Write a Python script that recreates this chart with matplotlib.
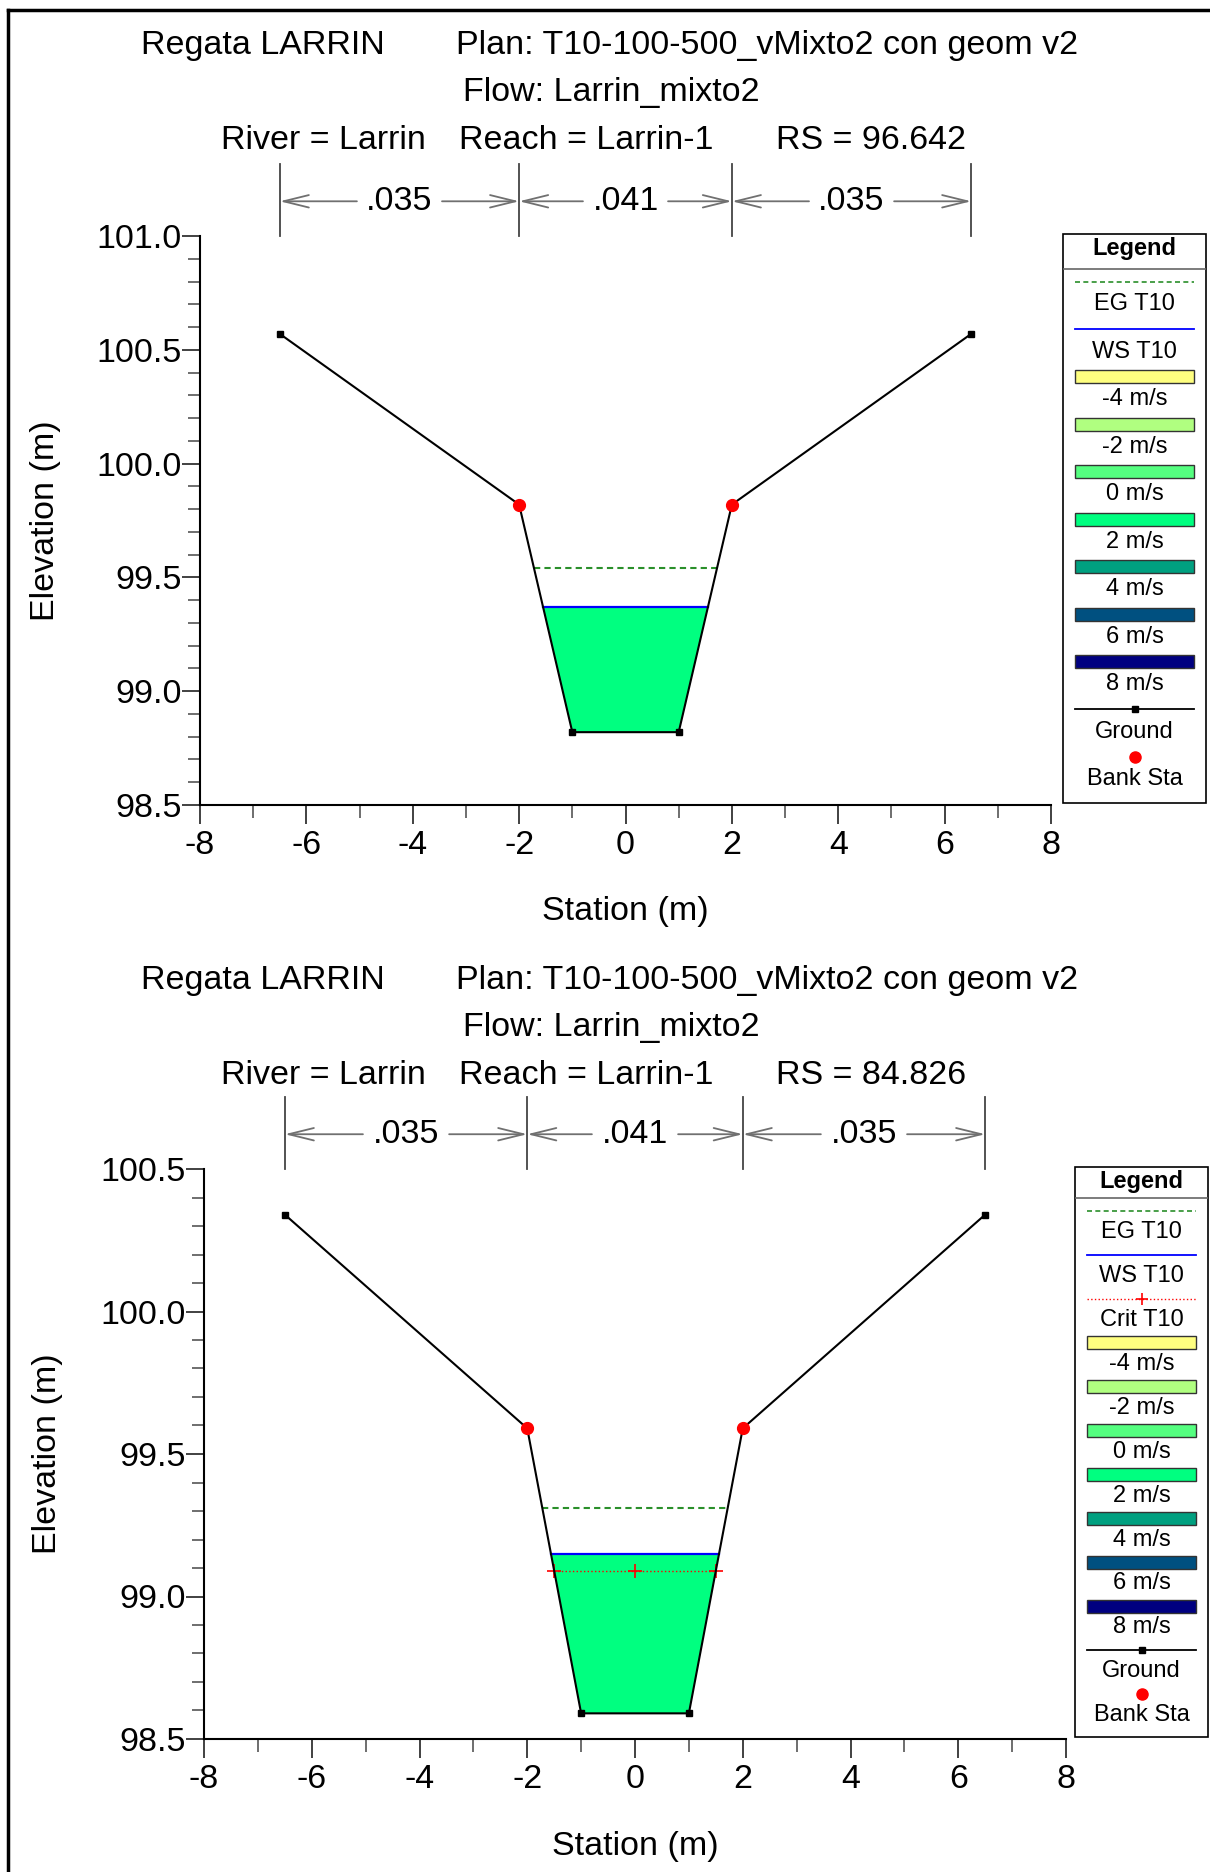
import numpy as np
import matplotlib
matplotlib.use("Agg")
import matplotlib.pyplot as plt
from matplotlib.patches import Rectangle, Polygon
from matplotlib.lines import Line2D
from matplotlib.transforms import blended_transform_factory
from matplotlib.ticker import MultipleLocator, FormatStrFormatter

plt.rcParams['font.family'] = ['Liberation Sans', 'DejaVu Sans']
plt.rcParams['axes.unicode_minus'] = False

W, H = 1210, 1872

# Cross section at RS 96.642
sta_a = [-6.5, -2.0, -1.0, 1.0, 2.0, 6.5]
elev_a = [100.57, 99.82, 98.82, 98.82, 99.82, 100.57]
bank_a = [-2.0, 2.0]
ws_a = 99.37
eg_a = 99.54

# Cross section at RS 84.826
sta_b = [-6.5, -2.0, -1.0, 1.0, 2.0, 6.5]
elev_b = [100.34, 99.59, 98.59, 98.59, 99.59, 100.34]
bank_b = [-2.0, 2.0]
ws_b = 99.15
eg_b = 99.31
crit_b = 99.09

# Manning's n between stations
n_edges = [-6.5, -2.0, 2.0, 6.5]
n_vals = [".035", ".041", ".035"]

vel_labels = ["-4 m/s", "-2 m/s", "0 m/s", "2 m/s", "4 m/s", "6 m/s", "8 m/s"]
vel_colors = ["#FFFF80", "#B0FF80", "#55FF80", "#00FF80", "#00A080", "#005080", "#000080"]
water_color = vel_colors[3]

fig = plt.figure(figsize=(W / 100, H / 100), dpi=100)

# page frame (top and left edge)
fig.add_artist(Line2D([8 / W, 1.0], [1 - 10 / H] * 2, transform=fig.transFigure, color='black', lw=2.5))
fig.add_artist(Line2D([8 / W] * 2, [0.0, 1 - 10 / H], transform=fig.transFigure, color='black', lw=2.5))

FS = 24.5


def px_axes(x0, y0, x1, y1):
    return fig.add_axes([x0 / W, 1 - y1 / H, (x1 - x0) / W, (y1 - y0) / H])


def water_edges(sta, elev, level):
    sta = np.array(sta)
    elev = np.array(elev)
    lo = int(np.argmin(elev))
    left = np.interp(level, elev[:lo + 1][::-1], sta[:lo + 1][::-1])
    hi = len(elev) - 1 - int(np.argmin(elev[::-1]))
    right = np.interp(level, elev[hi:], sta[hi:])
    return left, right


def titles(top, rs):
    fig.text(141 / W, 1 - top / H, "Regata LARRIN", fontsize=FS, va='baseline')
    fig.text(456 / W, 1 - top / H, "Plan: T10-100-500_vMixto2 con geom v2", fontsize=FS, va='baseline')
    fig.text(463 / W, 1 - (top + 47.5) / H, "Flow: Larrin_mixto2", fontsize=FS, va='baseline')
    fig.text(221 / W, 1 - (top + 95) / H, "River = Larrin", fontsize=FS, va='baseline')
    fig.text(459 / W, 1 - (top + 95) / H, "Reach = Larrin-1", fontsize=FS, va='baseline')
    fig.text(776 / W, 1 - (top + 95) / H, "RS = " + rs, fontsize=FS, va='baseline')


def section(ax, sta, elev, bank, ws, eg, ylim, crit=None):
    left, right = water_edges(sta, elev, ws)
    inside = [(s, e) for s, e in zip(sta, elev) if left < s < right]
    poly = [(left, ws)] + inside + [(right, ws)]
    ax.add_patch(Polygon(poly, closed=True, facecolor=water_color, edgecolor='none', zorder=1))

    el, er = water_edges(sta, elev, eg)
    ax.plot([el, er], [eg, eg], color='#2A8F2A', lw=1.5, dashes=(3, 2), zorder=2)
    ax.plot([left, right], [ws, ws], color='#0000FF', lw=1.6, zorder=3)
    if crit is not None:
        cl, cr = water_edges(sta, elev, crit)
        ax.plot([cl, (cl + cr) / 2, cr], [crit] * 3, color='#FF0000', lw=1.0, ls=':',
                marker='+', ms=10, mew=1.2, zorder=3)

    ax.plot(sta, elev, color='black', lw=1.5, marker='s', ms=5, zorder=4)
    ax.plot(bank, np.interp(bank, sta, elev), ls='none', marker='o', ms=8.5,
            color='#FF0000', zorder=5)

    ax.set_xlim(-8, 8)
    ax.set_ylim(*ylim)
    ax.xaxis.set_major_locator(MultipleLocator(2))
    ax.xaxis.set_minor_locator(MultipleLocator(1))
    ax.yaxis.set_major_locator(MultipleLocator(0.5))
    ax.yaxis.set_minor_locator(MultipleLocator(0.1))
    ax.yaxis.set_major_formatter(FormatStrFormatter('%.1f'))
    for s in ('top', 'right'):
        ax.spines[s].set_visible(False)
    for s in ('left', 'bottom'):
        ax.spines[s].set_linewidth(1.5)
    ax.tick_params(which='major', length=14, width=1.3, labelsize=FS, color='#333333')
    ax.tick_params(axis='x', which='major', pad=4)
    ax.tick_params(axis='y', which='major', length=13, pad=0)
    ax.tick_params(which='minor', length=9, width=1.2, color='#555555')

    ax.set_xlabel("Station (m)", fontsize=FS)
    ax.set_ylabel("Elevation (m)", fontsize=FS)
    ax.xaxis.label.set_va('center')
    ax.yaxis.label.set_va('center')
    ax.xaxis.set_label_coords(0.5, -0.1880)
    ax.yaxis.set_label_coords(-0.1815, 0.5)

    # Manning's n brackets above the section
    tr = blended_transform_factory(ax.transData, ax.transAxes)
    for x in n_edges:
        ax.plot([x, x], [1.0, 1.126], transform=tr, color='#444444', lw=1.3, clip_on=False)
    for a, b, label in zip(n_edges[:-1], n_edges[1:], n_vals):
        mid = (a + b) / 2
        ax.text(mid, 1.061, label, transform=tr, fontsize=FS, ha='center', va='center')
        for end, start in ((a, mid - 0.8), (b, mid + 0.8)):
            ax.annotate("", xy=(end, 1.061), xytext=(start, 1.061), xycoords=tr, textcoords=tr,
                        arrowprops=dict(arrowstyle='->,head_length=1.3,head_width=0.32',
                                        color='#707070', lw=1.3, mutation_scale=14,
                                        shrinkA=0, shrinkB=0))


def legend_box(rect, entries, first, step, txt_off, head_y, sep_y):
    x0, y0, x1, y1 = rect
    w, h = x1 - x0, y1 - y0
    lax = px_axes(x0, y0, x1, y1)
    lax.set_xlim(0, w)
    lax.set_ylim(h, 0)
    lax.axis('off')
    lax.add_patch(Rectangle((0, 0), w, h, fill=False, edgecolor='black', lw=1.2, clip_on=False))
    lax.text(w / 2, head_y, "Legend", fontsize=17, fontweight='bold', ha='center', va='center')
    lax.plot([0, w], [sep_y, sep_y], color='#666666', lw=1.2)
    m = 12
    for i, (kind, label, style) in enumerate(entries):
        y = first + i * step
        if kind == 'box':
            lax.add_patch(Rectangle((m, y - 6.5), w - 2 * m, 13, facecolor=style,
                                    edgecolor='#333333', lw=1.0))
        elif kind == 'line':
            xs = [m, w / 2, w - m]
            lax.plot(xs, [y] * 3, **style)
        elif kind == 'point':
            lax.plot([w / 2], [y], ls='none', **style)
        lax.text(w / 2, y + txt_off, label, fontsize=17, ha='center', va='center')


def entries(with_crit):
    e = [('line', "EG T10", dict(color='#2A8F2A', lw=1.2, dashes=(3, 2))),
         ('line', "WS T10", dict(color='#0000FF', lw=1.3))]
    if with_crit:
        e.append(('line', "Crit T10", dict(color='#FF0000', lw=1.0, ls=':', marker='+', ms=9,
                                           markevery=[1], mew=1.2)))
    for lab, col in zip(vel_labels, vel_colors):
        e.append(('box', lab, col))
    e.append(('line', "Ground", dict(color='black', lw=1.3, marker='s', ms=5, markevery=[1])))
    e.append(('point', "Bank Sta", dict(color='#FF0000', marker='o', ms=8)))
    return e


# upper section
titles(54, "96.642")
ax1 = px_axes(200, 236, 1051, 805)
section(ax1, sta_a, elev_a, bank_a, ws_a, eg_a, (98.5, 101.0))
legend_box((1063, 234, 1206, 803), entries(False), 47.7, 47.5, 22.5, 14.5, 34.5)

# lower section
titles(988.5, "84.826")
ax2 = px_axes(204, 1169, 1066, 1739)
section(ax2, sta_b, elev_b, bank_b, ws_b, eg_b, (98.5, 100.5), crit=crit_b)
legend_box((1075, 1167, 1208, 1737), entries(True), 44.2, 43.9, 21, 14.5, 31)

fig.savefig("out.png", dpi=100)
